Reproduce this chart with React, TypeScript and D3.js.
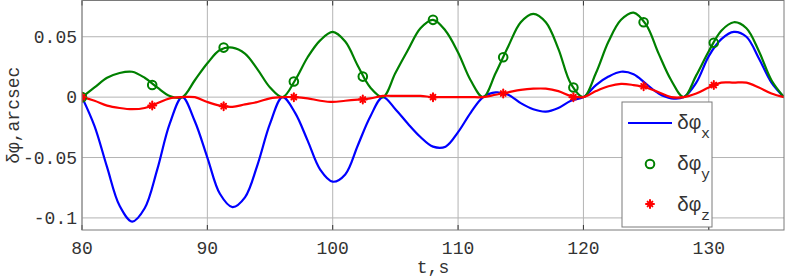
import React from "react";
import * as d3 from "d3";

const tValues = d3.range(80, 137, 1);
const dphiX = [
  0, -0.024, -0.058, -0.09, -0.103, -0.092, -0.06, -0.022,
  0, -0.02, -0.05, -0.08, -0.091, -0.083, -0.056, -0.022,
  0, -0.013, -0.036, -0.06, -0.07, -0.064, -0.04, -0.016,
  0, -0.01, -0.022, -0.033, -0.041, -0.041, -0.029, -0.013,
  0, 0.004, 0.002, -0.005, -0.01, -0.012, -0.009, -0.003,
  0, 0.01, 0.017, 0.021, 0.019, 0.011, 0.003, -0.001,
  0, 0.012, 0.034, 0.048, 0.054, 0.05, 0.032, 0.012,
  0,
];
const dphiY = [
  0, 0.008, 0.016, 0.02, 0.021, 0.016, 0.008, 0.001,
  0, 0.014, 0.028, 0.039, 0.041, 0.036, 0.023, 0.008,
  0, 0.014, 0.033, 0.047, 0.054, 0.046, 0.026, 0.008,
  0, 0.02, 0.039, 0.057, 0.064, 0.055, 0.037, 0.014,
  0, 0.02, 0.042, 0.062, 0.069, 0.062, 0.04, 0.011,
  0, 0.02, 0.046, 0.064, 0.07, 0.06, 0.036, 0.014,
  0, 0.018, 0.038, 0.055, 0.062, 0.057, 0.038, 0.014,
  0,
];
const dphiZ = [
  0, -0.003, -0.007, -0.009, -0.01, -0.009, -0.005, -0.001,
  0, 0, -0.004, -0.007, -0.008, -0.006, -0.004, -0.001,
  0, 0, -0.001, -0.003, -0.004, -0.003, -0.002, -0.001,
  0.001, 0.001, 0.001, 0.001, 0, 0, 0, 0,
  0, 0.002, 0.004, 0.006, 0.007, 0.007, 0.005, 0.001,
  0, 0.005, 0.009, 0.011, 0.01, 0.008, 0.004, 0,
  0, 0.003, 0.008, 0.012, 0.012, 0.012, 0.008, 0.003,
  0,
];
const markerT = [80, 85.6, 91.3, 96.9, 102.4, 108, 113.6, 119.2, 124.8, 130.4];
const markerY = [0, 0.01, 0.041, 0.013, 0.017, 0.064, 0.033, 0.008, 0.062, 0.045];
const markerZ = [0, -0.007, -0.0075, 0, -0.002, 0, 0.003, 0, 0.009, 0.01];
const xTicks = [80, 90, 100, 110, 120, 130];
const yTicks = [0.05, 0, -0.05, -0.1];
const yTickLabels = ["0.05", "0", "-0.05", "-0.1"];

const W = 785;
const H = 280;
const L = 82;
const R = 784;
const T = 0.5;
const B = 230;
const FONT = "'Liberation Mono', monospace";
const BLUE = "#0000ff";
const GREEN = "#008000";
const RED = "#ff0000";
const TEXT = "#333";

function Star({ x, y, s = 4 }: { x: number; y: number; s?: number }) {
  const d = s * 0.6;
  return (
    <g stroke={RED} strokeWidth={2} strokeLinecap="round">
      <line x1={x - s} y1={y} x2={x + s} y2={y} />
      <line x1={x} y1={y - s} x2={x} y2={y + s} />
      <line x1={x - d} y1={y - d} x2={x + d} y2={y + d} />
      <line x1={x - d} y1={y + d} x2={x + d} y2={y - d} />
    </g>
  );
}

export default function App() {
  const x = d3.scaleLinear().domain([80, 136]).range([L, R]);
  const y = d3.scaleLinear().domain([-0.11, 0.08]).range([B, T]);
  const line = (vals: number[]) =>
    d3
      .line<number>()
      .x((_, i) => x(tValues[i]))
      .y((v) => y(v))
      .curve(d3.curveCatmullRom.alpha(0.5))(vals) as string;

  const gridColor = "#b4b4b4";
  const axisColor = "#7a7a7a";

  return (
    <svg
      width={W}
      height={H}
      style={{ position: "absolute", left: 0, top: 0, background: "#fff" }}
    >
      <defs>
        <clipPath id="plot">
          <rect x={L} y={T} width={R - L} height={B - T} />
        </clipPath>
      </defs>
      <rect x={0} y={0} width={W} height={H} fill="#fff" />
      {xTicks.map((t) => (
        <line key={"gx" + t} x1={x(t)} x2={x(t)} y1={T} y2={B} stroke={gridColor} strokeWidth={1} />
      ))}
      {yTicks.map((v) => (
        <line key={"gy" + v} x1={L} x2={R} y1={y(v)} y2={y(v)} stroke={gridColor} strokeWidth={1} />
      ))}
      {xTicks.map((t) => (
        <g key={"tx" + t}>
          <line x1={x(t)} x2={x(t)} y1={B} y2={B - 5} stroke="#333" />
          <line x1={x(t)} x2={x(t)} y1={T} y2={T + 5} stroke="#333" />
        </g>
      ))}
      <g clipPath="url(#plot)" fill="none" strokeLinejoin="round">
        <path d={line(dphiX)} stroke={BLUE} strokeWidth={2.2} />
        <path d={line(dphiY)} stroke={GREEN} strokeWidth={2.2} />
        <path d={line(dphiZ)} stroke={RED} strokeWidth={2.2} />
        {markerT.map((t, i) => (
          <circle key={"cy" + i} cx={x(t)} cy={y(markerY[i])} r={4.3} fill="none" stroke={GREEN} strokeWidth={2} />
        ))}
        {markerT.map((t, i) => (
          <Star key={"sz" + i} x={x(t)} y={y(markerZ[i])} />
        ))}
      </g>
      <rect x={L} y={T} width={R - L} height={B - T} fill="none" stroke={axisColor} strokeWidth={1} />
      {xTicks.map((t) => (
        <text key={"lx" + t} x={x(t)} y={254} textAnchor="middle" fontFamily={FONT} fontSize={18} fill={TEXT}>
          {t}
        </text>
      ))}
      {yTicks.map((v, i) => (
        <text key={"ly" + v} x={L - 5} y={y(v) + 6} textAnchor="end" fontFamily={FONT} fontSize={18} fill={TEXT}>
          {yTickLabels[i]}
        </text>
      ))}
      <text x={433} y={273} textAnchor="middle" fontFamily={FONT} fontSize={18} fill={TEXT}>
        t,s
      </text>
      <text
        transform={`translate(19, ${(T + B) / 2}) rotate(-90)`}
        textAnchor="middle"
        fontFamily={FONT}
        fontSize={18}
        fill={TEXT}
      >
        δφ,arcsec
      </text>
      <g>
        <rect x={622} y={102} width={90} height={125} fill="#fff" stroke={axisColor} strokeWidth={1} />
        <line x1={628} x2={672} y1={123} y2={123} stroke={BLUE} strokeWidth={2.2} />
        <circle cx={650} cy={164} r={4.3} fill="none" stroke={GREEN} strokeWidth={2} />
        <Star x={650} y={204} />
        {["x", "y", "z"].map((s, i) => (
          <text key={s} x={677} y={129 + i * 41} fontFamily={FONT} fontSize={20} fill={TEXT}>
            δφ
            <tspan dy={9} fontSize={15}>
              {s}
            </tspan>
          </text>
        ))}
      </g>
    </svg>
  );
}
